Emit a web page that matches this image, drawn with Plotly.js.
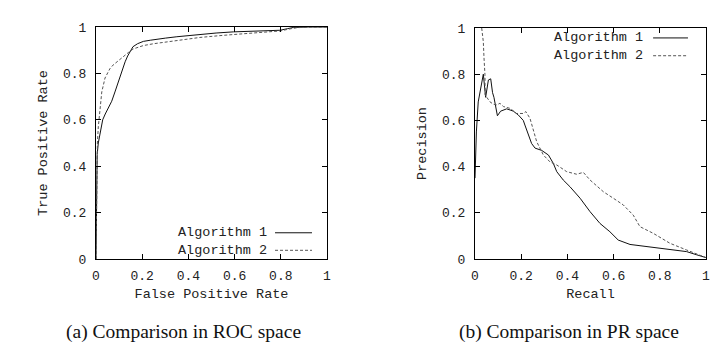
<!DOCTYPE html>
<html>
<head>
<meta charset="utf-8">
<script src="https://cdn.plot.ly/plotly-3.0.1.min.js"></script>
<style>html,body{margin:0;padding:0;background:#fff}#chart{width:726px;height:352px}</style>
</head>
<body>
<div id="chart"></div>
<script>
// ROC space (a)
const rocAlg1FPR = [0, 0.002, 0.005, 0.01, 0.018, 0.029, 0.04, 0.053, 0.068, 0.082, 0.095, 0.104, 0.115, 0.126, 0.137, 0.147, 0.16, 0.18, 0.205, 0.235, 0.263, 0.30, 0.35, 0.40, 0.45, 0.52, 0.595, 0.70, 0.797, 0.83, 0.854, 0.92, 1];
const rocAlg1TPR = [0, 0.30, 0.45, 0.50, 0.55, 0.60, 0.625, 0.65, 0.68, 0.72, 0.76, 0.79, 0.82, 0.85, 0.875, 0.89, 0.915, 0.928, 0.938, 0.943, 0.948, 0.952, 0.958, 0.963, 0.968, 0.974, 0.979, 0.983, 0.986, 0.993, 0.998, 1.0, 1.0];
const rocAlg2FPR = [0, 0.002, 0.004, 0.006, 0.01, 0.014, 0.025, 0.039, 0.06, 0.074, 0.09, 0.117, 0.14, 0.16, 0.205, 0.25, 0.29, 0.33, 0.378, 0.45, 0.55, 0.62, 0.695, 0.75, 0.797, 0.84, 0.87, 0.93, 1];
const rocAlg2TPR = [0, 0.25, 0.40, 0.50, 0.57, 0.62, 0.72, 0.78, 0.82, 0.836, 0.85, 0.872, 0.89, 0.905, 0.92, 0.928, 0.933, 0.938, 0.945, 0.955, 0.964, 0.969, 0.973, 0.978, 0.983, 0.992, 0.997, 1.0, 1.0];

// PR space (b)
const prAlg1Recall = [0, 0.006, 0.014, 0.025, 0.036, 0.046, 0.058, 0.068, 0.076, 0.082, 0.097, 0.111, 0.125, 0.137, 0.152, 0.166, 0.188, 0.209, 0.216, 0.231, 0.245, 0.26, 0.289, 0.318, 0.339, 0.354, 0.382, 0.411, 0.455, 0.498, 0.541, 0.584, 0.62, 0.671, 0.758, 0.844, 0.916, 0.96, 1];
const prAlg1Precision = [0.35, 0.55, 0.68, 0.74, 0.80, 0.70, 0.775, 0.78, 0.72, 0.70, 0.62, 0.64, 0.645, 0.65, 0.645, 0.64, 0.623, 0.60, 0.58, 0.537, 0.50, 0.48, 0.47, 0.45, 0.414, 0.378, 0.342, 0.313, 0.263, 0.205, 0.154, 0.118, 0.082, 0.063, 0.053, 0.042, 0.032, 0.018, 0.006];
const prAlg2Recall = [0.029, 0.033, 0.036, 0.039, 0.043, 0.044, 0.052, 0.065, 0.08, 0.094, 0.108, 0.123, 0.152, 0.18, 0.209, 0.22, 0.238, 0.252, 0.267, 0.296, 0.325, 0.354, 0.397, 0.44, 0.469, 0.498, 0.556, 0.599, 0.642, 0.685, 0.714, 0.772, 0.844, 0.916, 0.96, 1];
const prAlg2Precision = [1.0, 0.97, 0.94, 0.87, 0.80, 0.71, 0.70, 0.68, 0.67, 0.667, 0.674, 0.66, 0.652, 0.63, 0.63, 0.638, 0.609, 0.56, 0.508, 0.45, 0.42, 0.407, 0.378, 0.367, 0.375, 0.342, 0.291, 0.263, 0.234, 0.19, 0.14, 0.111, 0.068, 0.039, 0.02, 0.006];

const tickVals = [0, 0.2, 0.4, 0.6, 0.8, 1];
const tickText = ['0', '0.2', '0.4', '0.6', '0.8', '1'];
const seriesNames = ['Algorithm 1', 'Algorithm 2'];
const xTitles = ['False Positive Rate', 'Recall'];
const yTitles = ['True Positive Rate', 'Precision'];
const captions = ['(a) Comparison in ROC space', '(b) Comparison in PR space'];

const mono = 'Liberation Mono, Courier New, monospace';
const solid = {color: '#111', width: 1, dash: 'solid'};
const dashed = {color: '#555', width: 1, dash: '3px,2px'};

const traces = [
  {x: rocAlg1FPR, y: rocAlg1TPR, name: seriesNames[0], mode: 'lines', line: solid, xaxis: 'x', yaxis: 'y'},
  {x: rocAlg2FPR, y: rocAlg2TPR, name: seriesNames[1], mode: 'lines', line: dashed, xaxis: 'x', yaxis: 'y'},
  {x: prAlg1Recall, y: prAlg1Precision, name: seriesNames[0], mode: 'lines', line: solid, xaxis: 'x2', yaxis: 'y2'},
  {x: prAlg2Recall, y: prAlg2Precision, name: seriesNames[1], mode: 'lines', line: dashed, xaxis: 'x2', yaxis: 'y2'}
];

function axis(domain, title, isY, anchor) {
  return {
    domain: domain, range: [0, 1], anchor: anchor,
    tickvals: tickVals, ticktext: tickText,
    ticks: 'inside', ticklen: 5, tickwidth: 1, tickcolor: '#000',
    showline: true, linecolor: '#000', linewidth: 1, mirror: 'ticks',
    showgrid: false, zeroline: false, fixedrange: true,
    tickfont: {family: mono, size: 13, color: '#222'},
    ticklabelstandoff: isY ? 6 : 4,
    automargin: false,
    title: {text: title, font: {family: mono, size: 13.5, color: '#222'}, standoff: isY ? 12 : 5}
  };
}

const W = 726, H = 352;
const px = v => v / W, py = v => (H - v) / H;
const legendText = seriesNames.join('<br>');

const layout = {
  width: W, height: H,
  margin: {l: 0, r: 0, t: 0, b: 0},
  paper_bgcolor: '#fff', plot_bgcolor: '#fff',
  showlegend: false,
  xaxis: axis([px(96), px(327)], xTitles[0], false, 'y'),
  yaxis: axis([py(259), py(27)], yTitles[0], true, 'x'),
  xaxis2: axis([px(475), px(706)], xTitles[1], false, 'y2'),
  yaxis2: axis([py(259), py(28)], yTitles[1], true, 'x2'),
  annotations: [
    {xref: 'paper', yref: 'paper', x: px(183), y: py(332), text: captions[0], showarrow: false, xanchor: 'center', yanchor: 'middle', font: {family: 'Liberation Serif, Times New Roman, serif', size: 19.5, color: '#111'}},
    {xref: 'paper', yref: 'paper', x: px(569), y: py(332), text: captions[1], showarrow: false, xanchor: 'center', yanchor: 'middle', font: {family: 'Liberation Serif, Times New Roman, serif', size: 19.5, color: '#111'}},
    {xref: 'x', yref: 'y', x: 0.745, y: 0.0754, text: legendText, align: 'right', showarrow: false, xanchor: 'right', yanchor: 'middle', borderpad: 0, font: {family: mono, size: 13.5, color: '#222'}},
    {xref: 'x2', yref: 'y2', x: 0.73, y: 0.918, text: legendText, align: 'right', showarrow: false, xanchor: 'right', yanchor: 'middle', borderpad: 0, font: {family: mono, size: 13.5, color: '#222'}}
  ],
  shapes: [
    {type: 'line', xref: 'x', yref: 'y', x0: 0.775, x1: 0.935, y0: 0.113, y1: 0.113, line: solid},
    {type: 'line', xref: 'x', yref: 'y', x0: 0.775, x1: 0.935, y0: 0.0375, y1: 0.0375, line: dashed},
    {type: 'line', xref: 'x2', yref: 'y2', x0: 0.771, x1: 0.922, y0: 0.957, y1: 0.957, line: solid},
    {type: 'line', xref: 'x2', yref: 'y2', x0: 0.771, x1: 0.922, y0: 0.880, y1: 0.880, line: dashed}
  ]
};

Plotly.newPlot('chart', traces, layout, {displayModeBar: false, staticPlot: true});
</script>
</body>
</html>
